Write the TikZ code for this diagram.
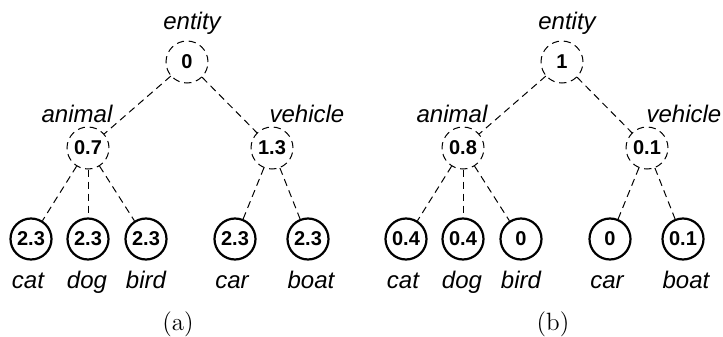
\documentclass[tikz,border=0pt]{standalone}
\usepackage{fontspec}
\newfontfamily\labfont{Liberation Sans}
\tikzset{
  dsh/.style={dash pattern=on 3.6pt off 2.4pt, line width=0.5pt},
  inner/.style={circle, draw, dsh, minimum size=21pt, inner sep=0pt,
    font=\labfont\bfseries\fontsize{10}{12}\selectfont},
  leaf/.style={circle, draw, line width=1.1pt, minimum size=20.5pt, inner sep=0pt,
    font=\labfont\bfseries\fontsize{10}{12}\selectfont},
  edge/.style={dsh},
  word/.style={anchor=base, inner sep=0pt, font=\labfont\itshape\fontsize{12}{14}\selectfont},
  capt/.style={anchor=base, inner sep=0pt, font=\fontsize{12.5}{14}\selectfont}
}
\begin{document}
\begin{tikzpicture}[x=0.5pt, y=-0.5pt]
\useasboundingbox (0,0) rectangle (723,337);
% ---------- panel (a)
\node[inner] (ar) at (187,62) {0};
\node[inner] (aa) at (88,148) {0.7};
\node[inner] (av) at (272,148) {1.3};
\node[leaf] (a1) at (31,239) {2.3};
\node[leaf] (a2) at (88,239) {2.3};
\node[leaf] (a3) at (146,239) {2.3};
\node[leaf] (a4) at (235,239) {2.3};
\node[leaf] (a5) at (308,239) {2.3};
\draw[edge] (ar) -- (aa);
\draw[edge] (ar) -- (av);
\draw[edge] (aa) -- (a1);
\draw[edge] (aa) -- (a2);
\draw[edge] (aa) -- (a3);
\draw[edge] (av) -- (a4);
\draw[edge] (av) -- (a5);
\node[word] (ale) at (192,29) {entity};
\node[word] (ala) at (77,122) {animal};
\node[word] (alv) at (307,122) {vehicle};
\node[word] (al1) at (28,288) {cat};
\node[word] (al2) at (87,288) {dog};
\node[word] (al3) at (146,288) {bird};
\node[word] (al4) at (232,288) {car};
\node[word] (al5) at (311,288) {boat};
\node[capt] (acap) at (178,330) {(a)};
% ---------- panel (b)
\node[inner] (br) at (562,62) {1};
\node[inner] (ba) at (463,148) {0.8};
\node[inner] (bv) at (647,148) {0.1};
\node[leaf] (b1) at (406,239) {0.4};
\node[leaf] (b2) at (463,239) {0.4};
\node[leaf] (b3) at (521,239) {0};
\node[leaf] (b4) at (610,239) {0};
\node[leaf] (b5) at (683,239) {0.1};
\draw[edge] (br) -- (ba);
\draw[edge] (br) -- (bv);
\draw[edge] (ba) -- (b1);
\draw[edge] (ba) -- (b2);
\draw[edge] (ba) -- (b3);
\draw[edge] (bv) -- (b4);
\draw[edge] (bv) -- (b5);
\node[word] (ble) at (567,29) {entity};
\node[word] (bla) at (452,122) {animal};
\node[word] (blv) at (684,122) {vehicle};
\node[word] (bl1) at (403,288) {cat};
\node[word] (bl2) at (462,288) {dog};
\node[word] (bl3) at (521,288) {bird};
\node[word] (bl4) at (607,288) {car};
\node[word] (bl5) at (686,288) {boat};
\node[capt] (bcap) at (553,330) {(b)};
\end{tikzpicture}
\end{document}
